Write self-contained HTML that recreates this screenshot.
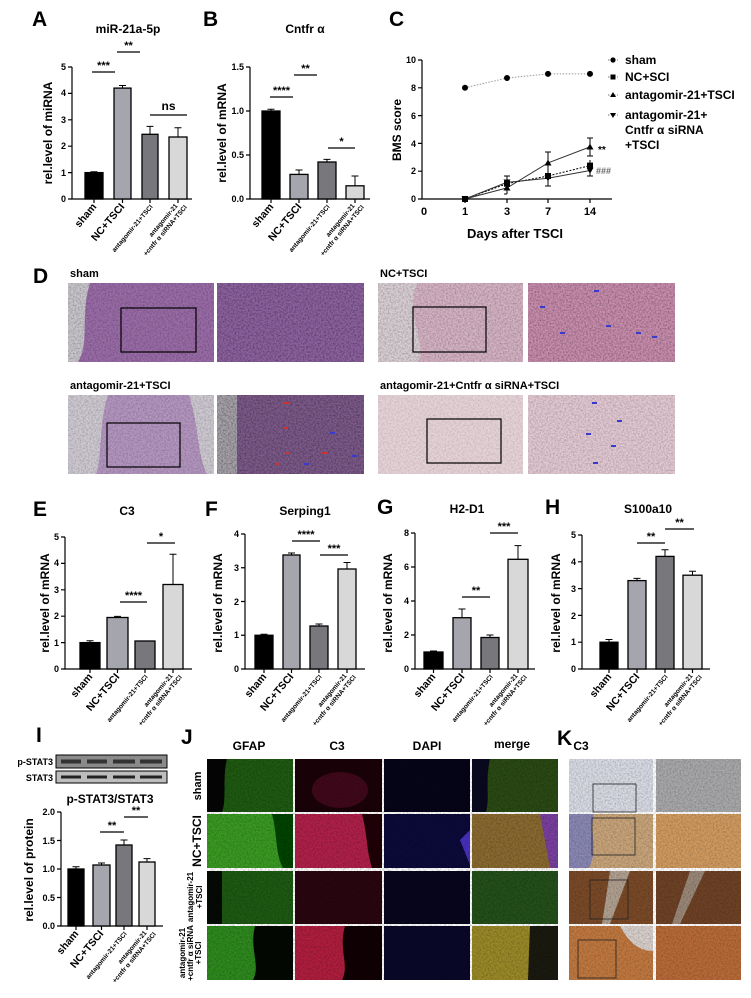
<!DOCTYPE html>
<html><head><meta charset="utf-8"><style>
html,body{margin:0;padding:0;background:#fff}
svg{display:block;font-family:"Liberation Sans",Arial,sans-serif}
.L{font-size:21px;font-weight:bold}
.t{font-size:12px;font-weight:bold;text-anchor:middle}
.tk{font-size:9px;font-weight:bold;text-anchor:end}
.yl{font-size:12px;font-weight:bold;text-anchor:middle}
.s{font-size:11px;font-weight:bold;text-anchor:middle}
.xl{font-size:10.5px;font-weight:bold;text-anchor:end}
.xs{font-size:6.5px;font-weight:bold;text-anchor:end}
.ax{stroke:#000;stroke-width:1.2;fill:none}
.b{stroke:#000;stroke-width:1.3}
.e{stroke:#000;stroke-width:1}
.sg{stroke:#000;stroke-width:1.2}
.hd{font-size:12px;font-weight:bold;text-anchor:middle}
</style></head><body>
<svg width="751" height="998" viewBox="0 0 751 998" xmlns="http://www.w3.org/2000/svg">
<defs>
<filter id="n" x="0" y="0" width="100%" height="100%"><feTurbulence type="fractalNoise" baseFrequency="0.6" numOctaves="2" seed="3"/><feColorMatrix type="matrix" values="0 0 0 0 0  0 0 0 0 0  0 0 0 0 0  0 0 0 -1.4 0.9"/><feComposite in2="SourceGraphic" operator="in"/></filter>
</defs>

<!-- ===== A ===== -->
<text class="L" x="32" y="26">A</text>
<text class="t" x="128" y="33">miR-21a-5p</text>
<text class="yl" transform="translate(52,133) rotate(-90)">rel.level of miRNA</text>
<path class="ax" d="M72,67V199H192"/>
<g class="ax"><path d="M68,67H72M68,93.4H72M68,119.8H72M68,146.2H72M68,172.6H72M68,199H72"/></g>
<text class="tk" x="66" y="70">5</text><text class="tk" x="66" y="96">4</text><text class="tk" x="66" y="123">3</text><text class="tk" x="66" y="149">2</text><text class="tk" x="66" y="176">1</text><text class="tk" x="66" y="202">0</text>
<path class="e" d="M122.5,88V85.5M119,85.5H126M150,134V126.4M146.5,126.4H153.5M178,137V127.7M174.5,127.7H181.5M94,172.6V171.8M90.5,171.8H97.5"/>
<rect class="b" x="85" y="172.6" width="18" height="26.4" fill="#000"/>
<rect class="b" x="114" y="88.1" width="17" height="110.9" fill="#a5a5ad"/>
<rect class="b" x="142" y="134.3" width="16" height="64.7" fill="#77777c"/>
<rect class="b" x="169" y="137" width="18" height="62" fill="#d8d8d8" stroke="#d8d8d8"/>
<path class="ax" d="M94,199V203M122.5,199V203M150,199V203M178,199V203"/>
<path class="sg" d="M92,72H115M117,52H140M150,115H187"/>
<text class="s" x="103.5" y="69">***</text><text class="s" x="128.5" y="49">**</text><text class="s" x="168.5" y="110" style="font-size:12px">ns</text>
<g transform="translate(97,207) rotate(-50)"><text class="xl">sham</text></g>
<g transform="translate(125,207) rotate(-50)"><text class="xl">NC+TSCI</text></g>
<g transform="translate(153,207) rotate(-50)"><text class="xs">antagomir-21+TSCI</text></g>
<g transform="translate(178,206) rotate(-50)"><text class="xs">antagomir-21</text><text class="xs" x="5" y="8">+cntfr α siRNA+TSCI</text></g>

<!-- ===== B ===== -->
<text class="L" x="203" y="26">B</text>
<text class="t" x="305" y="33">Cntfr α</text>
<text class="yl" transform="translate(226,133) rotate(-90)">rel.level of mRNA</text>
<path class="ax" d="M250,67V199H370"/>
<path class="ax" d="M246,67H250M246,111H250M246,155H250M246,199H250"/>
<text class="tk" x="244" y="70">1.5</text><text class="tk" x="244" y="114">1.0</text><text class="tk" x="244" y="158">0.5</text><text class="tk" x="244" y="202">0.0</text>
<path class="e" d="M299,174V170M295.5,170H302.5M327,162V159.4M323.5,159.4H330.5M355,186V176M351.5,176H358.5M271,111V109.2M267.5,109.2H274.5"/>
<rect class="b" x="262" y="111" width="18" height="88" fill="#000"/>
<rect class="b" x="290" y="174.4" width="18" height="24.6" fill="#a5a5ad"/>
<rect class="b" x="318" y="162" width="18" height="37" fill="#77777c"/>
<rect class="b" x="346" y="185.8" width="18" height="13.2" fill="#d8d8d8" stroke="#d8d8d8"/>
<path class="ax" d="M271,199V203M299,199V203M327,199V203M355,199V203"/>
<path class="sg" d="M270,97H293M294,75H317M328,148H355"/>
<text class="s" x="281.5" y="94">****</text><text class="s" x="305.5" y="72">**</text><text class="s" x="341.5" y="145">*</text>
<g transform="translate(274,207) rotate(-50)"><text class="xl">sham</text></g>
<g transform="translate(302,207) rotate(-50)"><text class="xl">NC+TSCI</text></g>
<g transform="translate(330,207) rotate(-50)"><text class="xs">antagomir-21+TSCI</text></g>
<g transform="translate(355,206) rotate(-50)"><text class="xs">antagomir-21</text><text class="xs" x="5" y="8">+cntfr α siRNA+TSCI</text></g>

<!-- ===== C ===== -->
<text class="L" x="389" y="26">C</text>
<text class="yl" transform="translate(401,130) rotate(-90)">BMS score</text>
<path class="ax" d="M422,60V199H612"/>
<path class="ax" d="M418,60H422M418,87.8H422M418,115.6H422M418,143.4H422M418,171.2H422M418,199H422M465,199V203M507,199V203M548,199V203M590,199V203"/>
<text class="tk" x="416" y="63">10</text><text class="tk" x="416" y="91">8</text><text class="tk" x="416" y="119">6</text><text class="tk" x="416" y="147">4</text><text class="tk" x="416" y="174">2</text><text class="tk" x="416" y="202">0</text>
<g style="font-size:11px;font-weight:bold;text-anchor:middle"><text x="424" y="215">0</text><text x="465" y="215">1</text><text x="507" y="215">3</text><text x="548" y="215">7</text><text x="590" y="215">14</text></g>
<text class="t" x="515" y="238" style="font-size:13px">Days after TSCI</text>
<path d="M465,87.8L507,78L548,73.9L590,73.9" stroke="#999" stroke-dasharray="1.5,1.5" fill="none"/>
<g fill="#000"><circle cx="465" cy="87.8" r="3"/><circle cx="507" cy="78" r="3"/><circle cx="548" cy="73.9" r="3"/><circle cx="590" cy="73.9" r="3"/></g>
<path d="M465,199L507,183.7L548,176L590,165.6" stroke="#000" stroke-dasharray="2,1.5" fill="none"/>
<path d="M465,199L507,187.9L548,162.9L590,146.9" stroke="#333" fill="none"/>
<path d="M465,199L507,182.3L548,178.2L590,170.5" stroke="#333" fill="none"/>
<path class="e" d="M507,176V194M504,176H510M507,194H504M548,152V172M545,152H551M548,186V171M545,186H551M590,138V156M587,138H593M587,156H593M590,160V176M587,176H593"/>
<g fill="#000"><rect x="504" y="180.7" width="6" height="6"/><rect x="545" y="173" width="6" height="6"/><rect x="587" y="162.6" width="6" height="6"/><rect x="462" y="196" width="6" height="6"/>
<path d="M507,184.5l3.5,6h-7zM548,159.5l3.5,6h-7zM590,143.5l3.5,6h-7z"/>
<path d="M507,185.5l3.5-6h-7zM548,181.4l3.5-6h-7zM590,173.7l3.5-6h-7zM465,202l3.5-6h-7z"/></g>
<text x="598" y="153" style="font-size:10px;font-weight:bold">**</text>
<text x="596" y="174" style="font-size:9px;font-weight:bold;fill:#666">###</text>
<g style="font-size:12px;font-weight:bold">
<path d="M608,60H618M608,77H618M608,95H618M608,115H618" stroke="#777" stroke-dasharray="1.5,1.5"/>
<circle cx="613" cy="60" r="2.6"/><rect x="610.5" y="74.5" width="5" height="5"/><path d="M613,92l3,5h-6z"/><path d="M613,118l3-5h-6z"/>
<text x="625" y="64">sham</text><text x="625" y="81">NC+SCI</text><text x="625" y="99">antagomir-21+TSCI</text><text x="625" y="119">antagomir-21+</text><text x="625" y="134">Cntfr α siRNA</text><text x="625" y="149">+TSCI</text></g>

<!-- ===== D ===== -->
<text class="L" x="33" y="283">D</text>
<g style="font-size:11px;font-weight:bold"><text x="70" y="277">sham</text><text x="380" y="277">NC+TSCI</text><text x="70" y="389">antagomir-21+TSCI</text><text x="380" y="389">antagomir-21+Cntfr α siRNA+TSCI</text></g>
<g>
<rect x="68" y="283" width="146" height="79" fill="#9a6ca8"/><path d="M68,283h22c-10,30,0,60-12,79h-10z" fill="#c9c6cc"/><rect x="68" y="283" width="146" height="79" fill="#4a2d5a" filter="url(#n)" opacity="0.35"/>
<rect x="217" y="283" width="147" height="79" fill="#8d62a0"/><rect x="217" y="283" width="147" height="79" fill="#3a1f4a" filter="url(#n)" opacity="0.5"/>
<rect x="378" y="283" width="145" height="79" fill="#d5b3c4"/><path d="M378,283h40c-15,30,10,60,0,79h-40z" fill="#d9cfd4"/><rect x="378" y="283" width="145" height="79" fill="#7a3a6a" filter="url(#n)" opacity="0.35"/>
<rect x="528" y="283" width="147" height="79" fill="#c98eae"/><rect x="528" y="283" width="147" height="79" fill="#6a2a5a" filter="url(#n)" opacity="0.45"/>
<rect x="68" y="395" width="146" height="79" fill="#b496c0"/><path d="M68,395h40c-10,30,-5,60,-12,79h-28z" fill="#cfcad2"/><path d="M214,395h-25c10,30,8,60,18,79h7z" fill="#cfcad2"/><rect x="68" y="395" width="146" height="79" fill="#4a2d5a" filter="url(#n)" opacity="0.3"/>
<rect x="217" y="395" width="147" height="79" fill="#7d5a8a"/><path d="M217,395h20v79h-20z" fill="#a8a3ab"/><rect x="217" y="395" width="147" height="79" fill="#2a1535" filter="url(#n)" opacity="0.5"/>
<rect x="378" y="395" width="145" height="79" fill="#e6d3d8"/><rect x="378" y="395" width="145" height="79" fill="#a06080" filter="url(#n)" opacity="0.2"/>
<rect x="528" y="395" width="147" height="79" fill="#e2c8d2"/><rect x="528" y="395" width="147" height="79" fill="#8a4070" filter="url(#n)" opacity="0.3"/>
</g>
<g fill="none" stroke="#000" stroke-width="1.2"><rect x="121" y="308" width="75" height="44"/><rect x="413" y="307" width="73" height="45"/><rect x="107" y="423" width="73" height="44"/><rect x="427" y="419" width="74" height="44"/></g>
<g fill="#3a3ad0"><rect x="540" y="306" width="5" height="2"/><rect x="594" y="290" width="5" height="2"/><rect x="606" y="325" width="5" height="2"/><rect x="560" y="332" width="5" height="2"/><rect x="636" y="332" width="5" height="2"/><rect x="652" y="336" width="5" height="2"/><rect x="592" y="402" width="5" height="2"/><rect x="617" y="420" width="5" height="2"/><rect x="586" y="433" width="5" height="2"/><rect x="611" y="445" width="5" height="2"/><rect x="593" y="462" width="5" height="2"/><rect x="330" y="432" width="5" height="2"/><rect x="352" y="455" width="5" height="2"/><rect x="304" y="463" width="5" height="2"/></g>
<g fill="#d03030"><rect x="284" y="402" width="5" height="2"/><rect x="283" y="427" width="5" height="2"/><rect x="285" y="452" width="5" height="2"/><rect x="275" y="463" width="5" height="2"/><rect x="322" y="452" width="5" height="2"/></g>

<!-- ===== E ===== -->
<text class="L" x="33" y="516">E</text>
<text class="t" x="127" y="515">C3</text>
<text class="yl" transform="translate(49,603) rotate(-90)">rel.level of mRNA</text>
<path class="ax" d="M65,537V669H192"/>
<path class="ax" d="M61,537H65M61,563.4H65M61,589.8H65M61,616.2H65M61,642.6H65M61,669H65"/>
<text class="tk" x="59" y="540">5</text><text class="tk" x="59" y="566">4</text><text class="tk" x="59" y="593">3</text><text class="tk" x="59" y="619">2</text><text class="tk" x="59" y="646">1</text><text class="tk" x="59" y="672">0</text>
<path class="e" d="M90,642.6V640.8M86.5,640.8H93.5M117.5,617.5V616.4M114,616.4H121M173,584.5V554.2M169.5,554.2H176.5"/>
<rect class="b" x="80" y="642.6" width="20" height="26.4" fill="#000"/>
<rect class="b" x="107" y="617.5" width="21" height="51.5" fill="#a5a5ad"/>
<rect class="b" x="135" y="641" width="20" height="28" fill="#77777c"/>
<rect class="b" x="163" y="584.5" width="20" height="84.5" fill="#d8d8d8"/>
<path class="ax" d="M90,669V673M117.5,669V673M145,669V673M173,669V673"/>
<path class="sg" d="M120,602H147M147,543H175"/>
<text class="s" x="133.5" y="599">****</text><text class="s" x="161" y="540">*</text>
<g transform="translate(93,677) rotate(-50)"><text class="xl">sham</text></g>
<g transform="translate(120,677) rotate(-50)"><text class="xl">NC+TSCI</text></g>
<g transform="translate(148,677) rotate(-50)"><text class="xs">antagomir-21+TSCI</text></g>
<g transform="translate(173,676) rotate(-50)"><text class="xs">antagomir-21</text><text class="xs" x="5" y="8">+cntfr α siRNA+TSCI</text></g>

<!-- ===== F ===== -->
<text class="L" x="205" y="516">F</text>
<text class="t" x="305" y="515">Serping1</text>
<text class="yl" transform="translate(222,603) rotate(-90)">rel.level of mRNA</text>
<path class="ax" d="M245,534V669H365"/>
<path class="ax" d="M241,534H245M241,567.75H245M241,601.5H245M241,635.25H245M241,669H245"/>
<text class="tk" x="239" y="537">4</text><text class="tk" x="239" y="571">3</text><text class="tk" x="239" y="605">2</text><text class="tk" x="239" y="638">1</text><text class="tk" x="239" y="672">0</text>
<path class="e" d="M264,635.25V634.2M260.5,634.2H267.5M291.5,555V553M288,553H295M319,626V624M315.5,624H322.5M347,569V562.5M343.5,562.5H350.5"/>
<rect class="b" x="255" y="635.25" width="18" height="33.75" fill="#000"/>
<rect class="b" x="283" y="555" width="17" height="114" fill="#a5a5ad"/>
<rect class="b" x="310" y="626" width="18" height="43" fill="#77777c"/>
<rect class="b" x="338" y="569" width="18" height="100" fill="#d8d8d8"/>
<path class="ax" d="M264,669V673M291.5,669V673M319,669V673M347,669V673"/>
<path class="sg" d="M292,541H320M320,555H348"/>
<text class="s" x="306" y="538">****</text><text class="s" x="334" y="552">***</text>
<g transform="translate(267,677) rotate(-50)"><text class="xl">sham</text></g>
<g transform="translate(294,677) rotate(-50)"><text class="xl">NC+TSCI</text></g>
<g transform="translate(322,677) rotate(-50)"><text class="xs">antagomir-21+TSCI</text></g>
<g transform="translate(347,676) rotate(-50)"><text class="xs">antagomir-21</text><text class="xs" x="5" y="8">+cntfr α siRNA+TSCI</text></g>

<!-- ===== G ===== -->
<text class="L" x="377" y="514">G</text>
<text class="t" x="467" y="513">H2-D1</text>
<text class="yl" transform="translate(392,603) rotate(-90)">rel.level of mRNA</text>
<path class="ax" d="M415,533V669H535"/>
<path class="ax" d="M411,533H415M411,567H415M411,601H415M411,635H415M411,669H415"/>
<text class="tk" x="409" y="536">8</text><text class="tk" x="409" y="570">6</text><text class="tk" x="409" y="604">4</text><text class="tk" x="409" y="638">2</text><text class="tk" x="409" y="672">0</text>
<path class="e" d="M433.5,652V651M430,651H437M462,617.7V609M458.5,609H465.5M490,637.5V635M486.5,635H493.5M518,559.3V545.6M514.5,545.6H521.5"/>
<rect class="b" x="424" y="652" width="19" height="17" fill="#000"/>
<rect class="b" x="453" y="617.7" width="18" height="51.3" fill="#a5a5ad"/>
<rect class="b" x="481" y="637.5" width="18" height="31.5" fill="#77777c"/>
<rect class="b" x="508" y="559.3" width="20" height="109.7" fill="#d8d8d8"/>
<path class="ax" d="M433.5,669V673M462,669V673M490,669V673M518,669V673"/>
<path class="sg" d="M462,597H490M490,533H518"/>
<text class="s" x="476" y="594">**</text><text class="s" x="504" y="530">***</text>
<g transform="translate(436,677) rotate(-50)"><text class="xl">sham</text></g>
<g transform="translate(465,677) rotate(-50)"><text class="xl">NC+TSCI</text></g>
<g transform="translate(493,677) rotate(-50)"><text class="xs">antagomir-21+TSCI</text></g>
<g transform="translate(518,676) rotate(-50)"><text class="xs">antagomir-21</text><text class="xs" x="5" y="8">+cntfr α siRNA+TSCI</text></g>

<!-- ===== H ===== -->
<text class="L" x="545" y="514">H</text>
<text class="t" x="648" y="513">S100a10</text>
<text class="yl" transform="translate(560,603) rotate(-90)">rel.level of mRNA</text>
<path class="ax" d="M582,535V669H710"/>
<path class="ax" d="M578,535H582M578,561.8H582M578,588.6H582M578,615.4H582M578,642.2H582M578,669H582"/>
<text class="tk" x="576" y="538">5</text><text class="tk" x="576" y="565">4</text><text class="tk" x="576" y="592">3</text><text class="tk" x="576" y="619">2</text><text class="tk" x="576" y="645">1</text><text class="tk" x="576" y="672">0</text>
<path class="e" d="M609,642.2V639.5M605.5,639.5H612.5M637,580.6V578.4M633.5,578.4H640.5M665,556.4V549.7M661.5,549.7H668.5M692.5,575.2V571.2M689,571.2H696"/>
<rect class="b" x="600" y="642.2" width="18" height="26.8" fill="#000"/>
<rect class="b" x="628" y="580.6" width="18" height="88.4" fill="#a5a5ad"/>
<rect class="b" x="656" y="556.4" width="18" height="112.6" fill="#77777c"/>
<rect class="b" x="683" y="575.2" width="19" height="93.8" fill="#d8d8d8"/>
<path class="ax" d="M609,669V673M637,669V673M665,669V673M692.5,669V673"/>
<path class="sg" d="M637,543H665M665,529H694"/>
<text class="s" x="651" y="540">**</text><text class="s" x="679.5" y="526">**</text>
<g transform="translate(612,677) rotate(-50)"><text class="xl">sham</text></g>
<g transform="translate(640,677) rotate(-50)"><text class="xl">NC+TSCI</text></g>
<g transform="translate(668,677) rotate(-50)"><text class="xs">antagomir-21+TSCI</text></g>
<g transform="translate(693,676) rotate(-50)"><text class="xs">antagomir-21</text><text class="xs" x="5" y="8">+cntfr α siRNA+TSCI</text></g>

<!-- ===== I ===== -->
<text class="L" x="36" y="742">I</text>
<g style="font-size:9px;font-weight:bold;text-anchor:end"><text x="53" y="765">p-STAT3</text><text x="53" y="781">STAT3</text></g>
<rect x="56" y="755" width="111" height="13" fill="#8a8a8a" stroke="#000"/>
<rect x="56" y="771" width="111" height="12" fill="#bdbdbd" stroke="#000"/>
<g stroke="#222" stroke-width="3"><path d="M61,761.5H81M87,761.5H107M113,761.5H135M140,761.5H162" stroke="#333" stroke-width="4"/><path d="M61,777H81M87,777H107M113,777H135M140,777H162"/></g>
<text class="t" x="110" y="803">p-STAT3/STAT3</text>
<text class="yl" transform="translate(33,870) rotate(-90)">rel.level of protein</text>
<path class="ax" d="M61,812V926H163"/>
<path class="ax" d="M57,812H61M57,840.5H61M57,869H61M57,897.5H61M57,926H61"/>
<text class="tk" x="55" y="815">2.0</text><text class="tk" x="55" y="844">1.5</text><text class="tk" x="55" y="872">1.0</text><text class="tk" x="55" y="901">0.5</text><text class="tk" x="55" y="929">0.0</text>
<path class="e" d="M76,869V866.7M72.5,866.7H79.5M101.5,865V863M98,863H105M124,845V840M120.5,840H127.5M147,862V858.6M143.5,858.6H150.5"/>
<rect class="b" x="68" y="869" width="16" height="57" fill="#000"/>
<rect class="b" x="93" y="865" width="17" height="61" fill="#a5a5ad"/>
<rect class="b" x="116" y="845" width="16" height="81" fill="#77777c"/>
<rect class="b" x="139" y="862" width="16" height="64" fill="#d8d8d8"/>
<path class="ax" d="M76,926V930M101.5,926V930M124,926V930M147,926V930"/>
<path class="sg" d="M100,832H124M124,817H148"/>
<text class="s" x="112" y="829">**</text><text class="s" x="136" y="814">**</text>
<g transform="translate(79,934) rotate(-50)"><text class="xl">sham</text></g>
<g transform="translate(104,934) rotate(-50)"><text class="xl">NC+TSCI</text></g>
<g transform="translate(127,934) rotate(-50)"><text class="xs">antagomir-21+TSCI</text></g>
<g transform="translate(147,933) rotate(-50)"><text class="xs">antagomir-21</text><text class="xs" x="5" y="8">+cntfr α siRNA+TSCI</text></g>

<!-- ===== J ===== -->
<text class="L" x="181" y="744">J</text>
<text class="hd" x="249" y="750">GFAP</text><text class="hd" x="337" y="750">C3</text><text class="hd" x="427" y="750">DAPI</text><text class="hd" x="512" y="748">merge</text>
<g style="font-size:11px;font-weight:bold;text-anchor:middle">
<text transform="translate(201,786) rotate(-90)">sham</text>
<text transform="translate(201,841) rotate(-90)" style="font-size:12px">NC+TSCI</text>
<text transform="translate(193,897) rotate(-90)" style="font-size:8px">antagomir-21</text><text transform="translate(202,897) rotate(-90)" style="font-size:8px">+TSCI</text>
<text transform="translate(185,953) rotate(-90)" style="font-size:8px">antagomir-21</text><text transform="translate(193,953) rotate(-90)" style="font-size:8px">+cntfr α siRNA</text><text transform="translate(201,953) rotate(-90)" style="font-size:8px">+TSCI</text></g>
<g>
<rect x="207" y="759" width="86" height="53" fill="#1f5a12"/><path d="M207,759h20c-5,20,0,40,-5,53h-15z" fill="#050505"/>
<rect x="295" y="759" width="87" height="53" fill="#1a0308"/><ellipse cx="340" cy="790" rx="28" ry="18" fill="#5a0d28" opacity=".6"/>
<rect x="384" y="759" width="86" height="53" fill="#060418"/>
<rect x="472" y="759" width="86" height="53" fill="#2a4a14"/><path d="M472,759h18c-5,20,0,40,-4,53h-14z" fill="#0a0a20"/>
<rect x="207" y="814" width="86" height="54" fill="#3a9a22"/><path d="M272,814h21v54h-10c-8-15,-5-30,-11-54z" fill="#040"/>
<rect x="295" y="814" width="87" height="54" fill="#b0204a"/><path d="M362,814h20v54h-10c-6-20,-4-30,-10-54z" fill="#200008"/>
<rect x="384" y="814" width="86" height="54" fill="#0c0a3a"/><path d="M460,840l10,-10v35z" fill="#4a30c0"/>
<rect x="472" y="814" width="86" height="54" fill="#8a6a30"/><path d="M540,814h18v54h-8z" fill="#7a40a0"/>
<rect x="207" y="871" width="86" height="53" fill="#1e5a14"/><path d="M207,871h15v53h-15z" fill="#050a05"/>
<rect x="295" y="871" width="87" height="53" fill="#2a0610"/>
<rect x="384" y="871" width="86" height="53" fill="#08061e"/>
<rect x="472" y="871" width="86" height="53" fill="#24501a"/>
<rect x="207" y="926" width="86" height="54" fill="#2e8a1e"/><path d="M255,926h38v54h-40c8-15,-4-30,2-54z" fill="#030803"/>
<rect x="295" y="926" width="87" height="54" fill="#b01e3e"/><path d="M345,926h37v54h-40c8-15,-4-30,3-54z" fill="#100004"/>
<rect x="384" y="926" width="86" height="54" fill="#0a0828"/>
<rect x="472" y="926" width="86" height="54" fill="#9a8a28"/><path d="M530,926h28v54h-30z" fill="#1a1a10"/>
<rect x="207" y="759" width="351" height="221" fill="#000" filter="url(#n)" opacity="0.35"/>
</g>

<!-- ===== K ===== -->
<text class="L" x="557" y="745">K</text>
<text class="hd" x="581" y="750">C3</text>
<g>
<rect x="569" y="759" width="84" height="53" fill="#d8dbe4"/>
<rect x="656" y="759" width="85" height="53" fill="#a8a8aa"/>
<rect x="569" y="814" width="84" height="54" fill="#c8a47a"/><path d="M569,814h25c-5,20,5,35,-5,54h-20z" fill="#8a88b4"/>
<rect x="656" y="814" width="85" height="54" fill="#d09a60"/>
<rect x="569" y="871" width="84" height="53" fill="#7a4a28"/><path d="M610,871l20,0l-20,53h-8z" fill="#b0a090"/>
<rect x="656" y="871" width="85" height="53" fill="#6e4226"/><path d="M690,871l15,0l-25,53h-8z" fill="#9a8878"/>
<rect x="569" y="926" width="84" height="54" fill="#c07840"/><path d="M620,926h33v25c-15,0,-25,-10,-33,-25z" fill="#d8d0cc"/>
<rect x="656" y="926" width="85" height="54" fill="#b86a38"/>
<rect x="569" y="759" width="172" height="221" fill="#2a1a10" filter="url(#n)" opacity="0.3"/>
</g>
<g fill="none" stroke="#222" stroke-width="0.8"><rect x="593" y="784" width="43" height="28"/><rect x="592" y="818" width="43" height="37"/><rect x="590" y="880" width="38" height="39"/><rect x="578" y="940" width="38" height="38"/></g>
</svg>
</body></html>
